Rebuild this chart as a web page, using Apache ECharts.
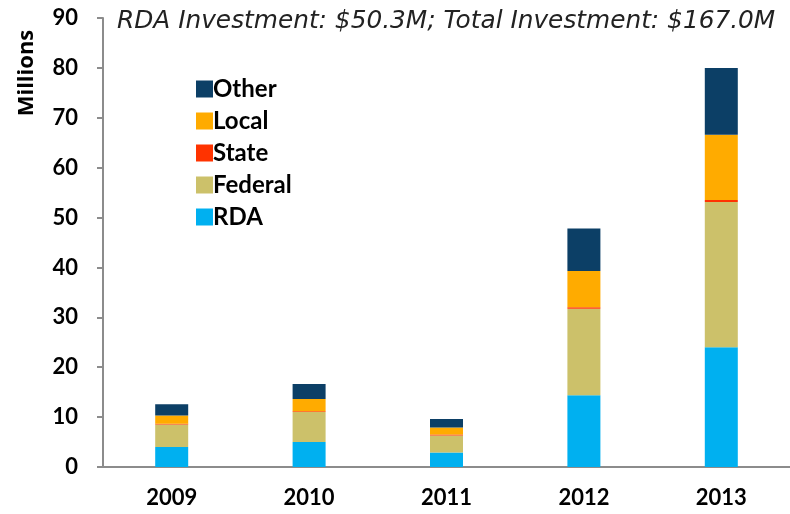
<!DOCTYPE html>
<html>
<head>
<meta charset="utf-8">
<script src="https://cdn.jsdelivr.net/npm/echarts@6/dist/echarts.min.js"></script>
<style>
html,body{margin:0;padding:0;background:#fff;}
#chart{width:790px;height:514px;}
</style>
</head>
<body>
<div id="chart"></div>
<script>
var years = ['2009', '2010', '2011', '2012', '2013'];
var rda = [4.0, 5.0, 2.9, 14.4, 24.0];
var federal = [4.5, 6.0, 3.4, 17.3, 29.1];
var state = [0.15, 0.15, 0.2, 0.3, 0.4];
var local = [1.65, 2.5, 1.4, 7.3, 13.1];
var other = [2.3, 3.0, 1.7, 8.5, 13.4];
var subtitle = 'RDA Investment: $50.3M; Total Investment: $167.0M';
var unitName = 'Millions';

var chart = echarts.init(document.getElementById('chart'));

// one stacked piece per funding source
function part(name, data, color) {
    return {
        name: name,
        type: 'bar',
        stack: 'total',
        data: data,
        barWidth: 33,
        itemStyle: {color: color},
        emphasis: {disabled: true}
    };
}

var bold = {fontFamily: 'Lato', fontWeight: 'bold', color: '#000'};

chart.setOption({
    animation: false,
    title: {
        text: subtitle,
        left: 112,
        top: 4,
        textStyle: {
            fontFamily: 'DejaVu Sans',
            fontStyle: 'italic',
            fontWeight: 'normal',
            fontSize: 24.8,
            color: '#222'
        }
    },
    graphic: [{
        type: 'text',
        x: 27,
        y: 73,
        rotation: Math.PI / 2,
        style: {
            text: unitName,
            fontFamily: 'Open Sans',
            fontWeight: 'bold',
            fontSize: 22,
            fill: '#000',
            align: 'center',
            verticalAlign: 'middle'
        }
    }],
    legend: {
        orient: 'vertical',
        left: 191,
        top: 72,
        itemWidth: 17,
        itemHeight: 17,
        itemGap: 8,
        data: ['Other', 'Local', 'State', 'Federal', 'RDA'],
        textStyle: Object.assign({fontSize: 24, padding: [0, 0, 0, -5]}, bold),
        icon: 'rect'
    },
    grid: {left: 103, right: -3, top: 18, bottom: 47},
    xAxis: {
        type: 'category',
        data: years,
        axisLine: {lineStyle: {color: '#8c8c8c', width: 2}},
        axisTick: {length: 6, lineStyle: {color: '#8c8c8c', width: 2}},
        axisLabel: Object.assign({fontSize: 22, margin: 20}, bold)
    },
    yAxis: {
        type: 'value',
        min: 0,
        max: 90,
        interval: 10,
        splitLine: {show: false},
        axisLine: {show: true, lineStyle: {color: '#8c8c8c', width: 2}},
        axisTick: {show: true, length: 6, lineStyle: {color: '#8c8c8c', width: 2}},
        axisLabel: Object.assign({fontSize: 22, margin: 25}, bold)
    },
    series: [
        part('RDA', rda, '#00B0F0'),
        part('Federal', federal, '#CCC16A'),
        part('State', state, '#FF3300'),
        part('Local', local, '#FFAB00'),
        part('Other', other, '#0C3F66')
    ]
});
</script>
</body>
</html>
